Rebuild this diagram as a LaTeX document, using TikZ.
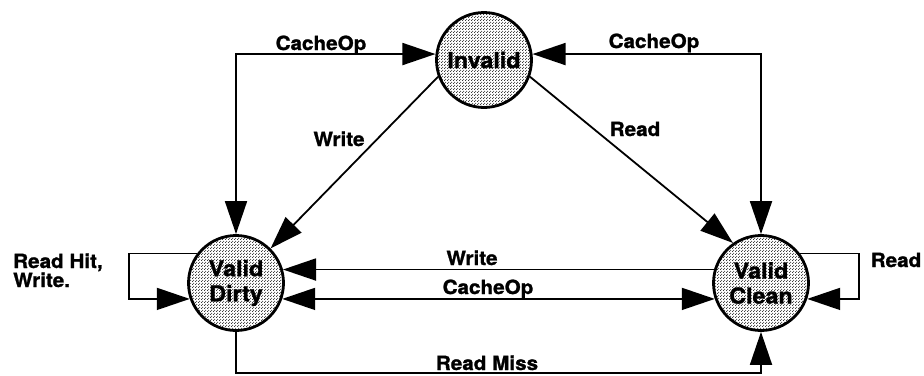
\documentclass[tikz,border=0pt]{standalone}
\usepackage{fontspec}
\setmainfont{TeX Gyre Heros}[FakeStretch=1.06, BoldFeatures={FakeBold=1.2}]
\usetikzlibrary{arrows.meta,patterns}
\pgfdeclarepatternformonly{stipple}{\pgfqpoint{0pt}{0pt}}{\pgfqpoint{3pt}{3pt}}{\pgfqpoint{3pt}{3pt}}{%
  \pgfpathcircle{\pgfqpoint{0.75pt}{0.75pt}}{0.7pt}%
  \pgfpathcircle{\pgfqpoint{2.25pt}{2.25pt}}{0.7pt}%
  \pgfusepath{fill}}
\begin{document}
\begin{tikzpicture}[x=1pt,y=-1pt,
  state/.style={circle, draw, line width=2.8pt, minimum size=95pt, inner sep=0pt,
    pattern=stipple, pattern color=black!85, align=center,
    font=\fontsize{22}{25}\selectfont\bfseries},
  lbl/.style={font=\fontsize{19.5}{24}\selectfont\bfseries, inner sep=0pt, anchor=base},
  lblw/.style={lbl, anchor=base west},
  tip/.tip={Triangle[length=33pt,width=22pt]},
  conn/.style={line width=1.8pt, -tip},
  conn2/.style={line width=1.8pt, tip-tip},
]
\useasboundingbox (0,0) rectangle (924,375);

\node[state] (inv) at (484,60) {Invalid};
\node[state] (vd) at (236,283) {Valid\\Dirty};
\node[state] (vc) at (761,283) {Valid\\Clean};

\coordinate (rm) at (500,373);
\coordinate (ll) at (129,275);
\coordinate (rl) at (859,275);

\draw[conn2] (vd.north) |- (inv.173);
\draw[conn2] (vc.north) |- (inv.7);
\draw[conn] (inv.200) -- (vd.45);
\draw[conn] (inv.340) -- (vc.125);
\draw[conn] (vc.164) -- (vd.16);
\draw[conn2] (vd.-19) -- (vc.199);
\draw[conn] (vd.south) |- (rm) -| (vc.south);
\draw[conn] (vd.143) -| (ll) |- (vd.199);
\draw[conn] (vc.37) -| (rl) |- (vc.341);

\node[lbl] (l1) at (321,50) {CacheOp};
\node[lbl] (l2) at (654,48) {CacheOp};
\node[lbl] (l3) at (339,146) {Write};
\node[lbl] (l4) at (635,136) {Read};
\node[lbl] (l5) at (472,265) {Write};
\node[lbl] (l6) at (488,294) {CacheOp};
\node[lbl] (l7) at (487,370) {Read Miss};
\node[lbl] (l8) at (896,267) {Read};
\node[lblw] (l9) at (13,268) {Read Hit,};
\node[lblw] (l10) at (13,287) {Write.};
\end{tikzpicture}
\end{document}
